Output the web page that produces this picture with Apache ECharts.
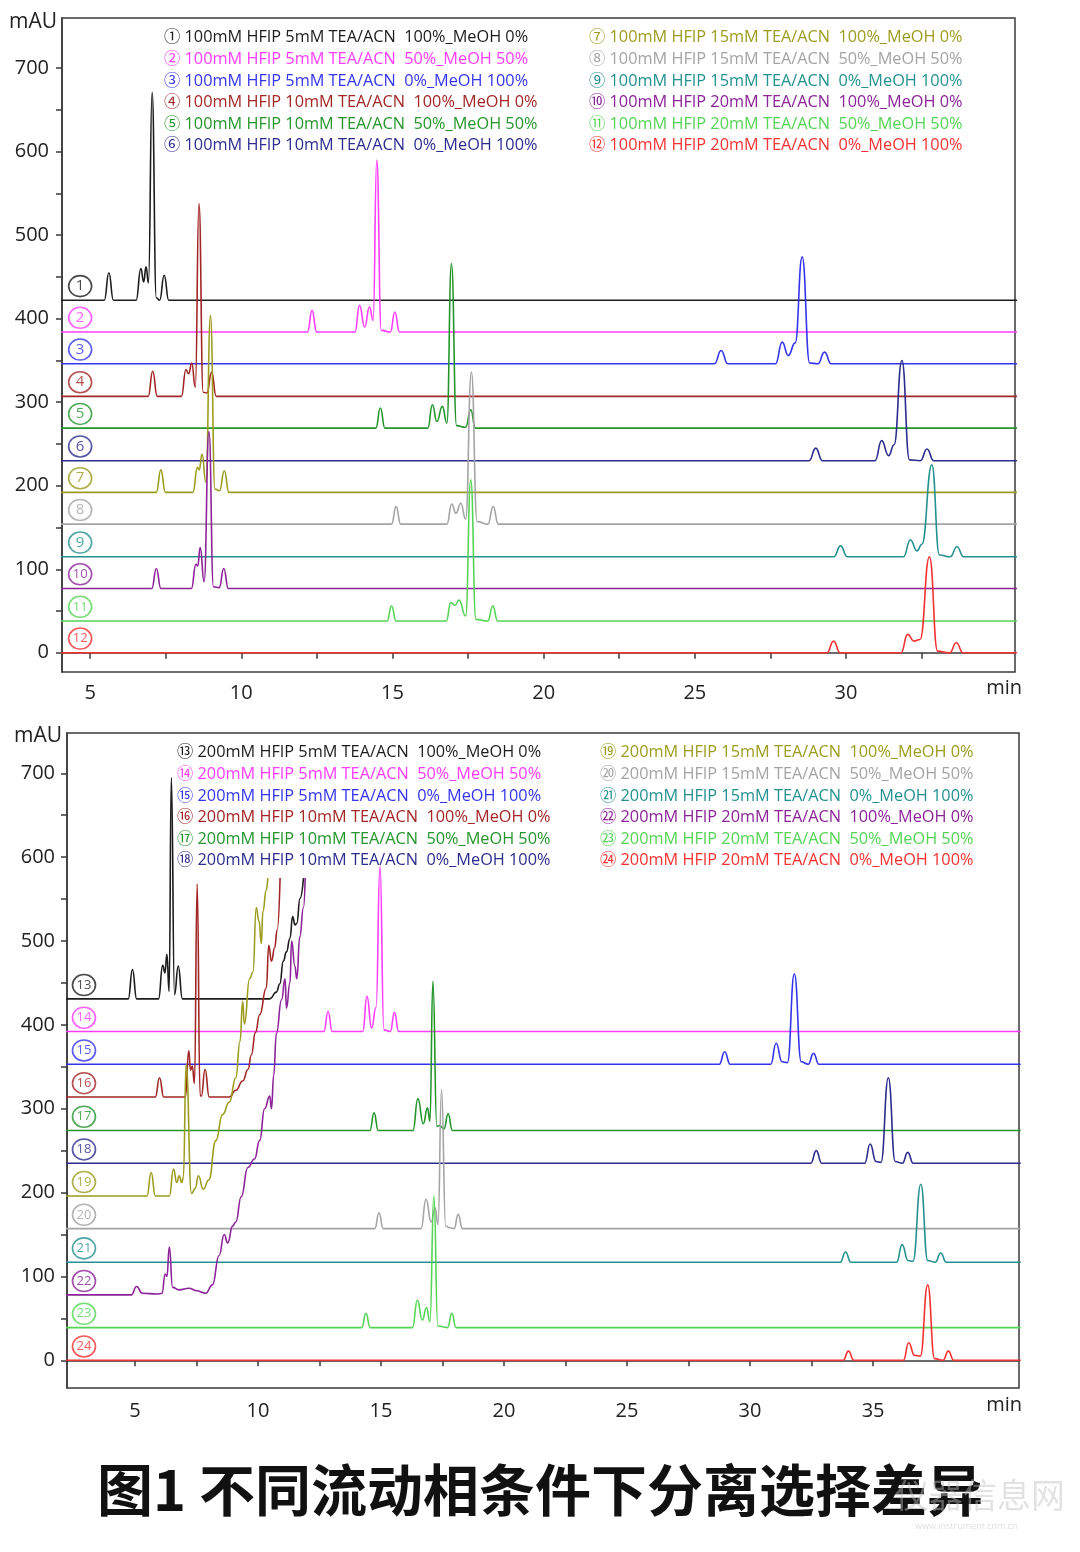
<!DOCTYPE html>
<html><head><meta charset="utf-8">
<script src="https://cdn.jsdelivr.net/npm/echarts@6/dist/echarts.min.js"></script>
<style>html,body{margin:0;padding:0;background:#fff}#c{width:1080px;height:1552px}</style>
</head><body><div id="c"></div>
<script>
// ---------- tick labels ----------
const xLabelsTop = [5, 10, 15, 20, 25, 30];
const xTicksTop = [5, 7.5, 10, 12.5, 15, 17.5, 20, 22.5, 25, 27.5, 30, 32.5];
const xLabelsBottom = [5, 10, 15, 20, 25, 30, 35];
const xTicksBottom = [5, 7.5, 10, 12.5, 15, 17.5, 20, 22.5, 25, 27.5, 30, 32.5, 35];
const yLabels = [0, 100, 200, 300, 400, 500, 600, 700];
const yTicks = [0, 50, 100, 150, 200, 250, 300, 350, 400, 450, 500, 550, 600, 650, 700];

// ---------- categories (legend names) ----------
const namesTop = [
  '① 100mM HFIP 5mM TEA/ACN  100%_MeOH 0%',
  '② 100mM HFIP 5mM TEA/ACN  50%_MeOH 50%',
  '③ 100mM HFIP 5mM TEA/ACN  0%_MeOH 100%',
  '④ 100mM HFIP 10mM TEA/ACN  100%_MeOH 0%',
  '⑤ 100mM HFIP 10mM TEA/ACN  50%_MeOH 50%',
  '⑥ 100mM HFIP 10mM TEA/ACN  0%_MeOH 100%',
  '⑦ 100mM HFIP 15mM TEA/ACN  100%_MeOH 0%',
  '⑧ 100mM HFIP 15mM TEA/ACN  50%_MeOH 50%',
  '⑨ 100mM HFIP 15mM TEA/ACN  0%_MeOH 100%',
  '⑩ 100mM HFIP 20mM TEA/ACN  100%_MeOH 0%',
  '⑪ 100mM HFIP 20mM TEA/ACN  50%_MeOH 50%',
  '⑫ 100mM HFIP 20mM TEA/ACN  0%_MeOH 100%'
];
const namesBottom = [
  '⑬ 200mM HFIP 5mM TEA/ACN  100%_MeOH 0%',
  '⑭ 200mM HFIP 5mM TEA/ACN  50%_MeOH 50%',
  '⑮ 200mM HFIP 5mM TEA/ACN  0%_MeOH 100%',
  '⑯ 200mM HFIP 10mM TEA/ACN  100%_MeOH 0%',
  '⑰ 200mM HFIP 10mM TEA/ACN  50%_MeOH 50%',
  '⑱ 200mM HFIP 10mM TEA/ACN  0%_MeOH 100%',
  '⑲ 200mM HFIP 15mM TEA/ACN  100%_MeOH 0%',
  '⑳ 200mM HFIP 15mM TEA/ACN  50%_MeOH 50%',
  '㉑ 200mM HFIP 15mM TEA/ACN  0%_MeOH 100%',
  '㉒ 200mM HFIP 20mM TEA/ACN  100%_MeOH 0%',
  '㉓ 200mM HFIP 20mM TEA/ACN  50%_MeOH 50%',
  '㉔ 200mM HFIP 20mM TEA/ACN  0%_MeOH 100%'
];
// baseline offsets (mAU) of each trace, used for the circled tags
const baseTop = [422, 384, 346, 307, 269, 230, 192, 154, 115, 77, 38, 0];
const baseBottom = [431, 392, 353, 314, 274, 235, 196, 157, 117, 78, 39, 0];

// ---------- series values: [min, mAU] ----------
const t01 = [[4,422],[5.47,422],[5.62,455],[5.77,422],[6.52,422],[6.68,460],[6.77,444],[6.85,462],[6.93,443],[7.05,671],[7.19,425],[7.3,422],[7.45,452],[7.6,422],[36,422]];
const t02 = [[4,384],[12.19,384],[12.34,410],[12.49,384],[13.76,384],[13.91,416],[14.08,390],[14.24,414],[14.36,398],[14.48,590],[14.63,386],[14.93,384],[15.08,408],[15.23,384],[36,384]];
const t03 = [[4,346],[25.65,346],[25.87,362],[26.09,346],[27.67,346],[27.89,372],[28.09,356],[28.32,371],[28.55,474],[28.8,347],[29.07,346],[29.29,360],[29.51,346],[36,346]];
const t04 = [[4,307],[6.92,307],[7.07,337],[7.22,307],[8.02,307],[8.17,339],[8.26,334],[8.36,347],[8.48,318],[8.6,538],[8.74,312],[8.86,311],[9.02,336],[9.17,307],[36,307]];
const t05 = [[4,269],[14.45,269],[14.6,293],[14.75,269],[16.17,269],[16.32,297],[16.47,277],[16.65,295],[16.8,275],[16.95,466],[17.12,272],[17.42,270],[17.59,291],[17.74,269],[36,269]];
const t06 = [[4,230],[28.78,230],[29.0,245],[29.22,230],[30.96,230],[31.18,254],[31.41,236],[31.59,249],[31.85,350],[32.1,231],[32.46,230],[32.68,244],[32.9,230],[36,230]];
const t07 = [[4,192],[7.19,192],[7.34,219],[7.49,192],[8.4,192],[8.55,222],[8.61,219],[8.7,238],[8.83,204],[8.98,404],[9.13,196],[9.28,194],[9.44,218],[9.59,192],[36,192]];
const t08 = [[4,154],[14.97,154],[15.12,175],[15.27,154],[16.8,154],[16.96,178],[17.1,167],[17.26,179],[17.42,160],[17.61,336],[17.8,157],[18.16,154],[18.33,175],[18.5,154],[36,154]];
const t09 = [[4,115],[29.6,115],[29.82,128],[30.04,115],[31.9,115],[32.13,135],[32.35,122],[32.51,130],[32.84,225],[33.09,117],[33.45,115],[33.67,127],[33.89,115],[36,115]];
const t10 = [[4,77],[7.04,77],[7.19,101],[7.34,77],[8.35,77],[8.5,106],[8.56,104],[8.64,126],[8.77,85],[8.93,265],[9.08,79],[9.27,78],[9.42,101],[9.57,77],[36,77]];
const t11 = [[4,38],[14.82,38],[14.97,56],[15.12,38],[16.78,38],[16.93,60],[17.07,57],[17.2,63],[17.42,44],[17.59,207],[17.76,40],[18.15,38],[18.32,56],[18.48,38],[36,38]];
const t12 = [[4,0],[29.37,0],[29.59,14],[29.81,0],[31.82,0],[32.04,22],[32.25,14],[32.45,16],[32.76,115],[33.03,2],[33.43,0],[33.65,12],[33.87,0],[36,0]];

const t13 = [[2,431],[4.73,431],[4.9,466],[5.07,431],[5.96,431],[6.13,471],[6.22,462],[6.3,484],[6.39,440],[6.48,695],[6.61,436],[6.76,470],[6.93,431],[10.48,431],[10.75,439],[10.89,449],[11.03,476],[11.16,487],[11.3,503],[11.41,529],[11.51,519],[11.58,521],[11.71,551],[11.85,575]];
const t14 = [[2,392],[12.68,392],[12.85,416],[13.02,392],[14.26,392],[14.43,434],[14.62,396],[14.8,421],[14.96,589],[15.12,394],[15.38,392],[15.55,415],[15.72,392],[41,392]];
const t15 = [[2,353],[28.75,353],[28.97,368],[29.19,353],[30.84,353],[31.06,378],[31.3,356],[31.52,355],[31.8,461],[32.08,356],[32.36,353],[32.58,366],[32.8,353],[41,353]];
const t16 = [[2,314],[5.83,314],[6.0,337],[6.17,314],[7.05,314],[7.19,369],[7.26,346],[7.33,351],[7.42,330],[7.53,568],[7.65,316],[7.7,315],[7.85,347],[8.02,314],[8.84,314],[9.1,322],[9.38,333],[9.6,347],[9.73,364],[9.9,391],[10.07,412],[10.34,444],[10.44,495],[10.55,476],[10.68,492],[10.78,513],[10.9,575]];
const t17 = [[2,274],[14.55,274],[14.72,295],[14.89,274],[16.3,274],[16.5,312],[16.72,282],[16.89,301],[16.99,285],[17.11,452],[17.27,279],[17.38,280],[17.56,276],[17.73,294],[17.9,274],[41,274]];
const t18 = [[2,235],[32.47,235],[32.69,250],[32.91,235],[34.66,235],[34.88,258],[35.12,237],[35.32,236],[35.62,337],[35.9,237],[36.19,235],[36.41,248],[36.63,235],[41,235]];
const t19 = [[2,196],[5.49,196],[5.66,224],[5.83,196],[6.4,196],[6.57,228],[6.7,212],[6.8,220],[6.9,212],[6.97,218],[7.08,353],[7.3,199],[7.45,205],[7.58,220],[7.78,204],[8.0,215],[8.29,262],[8.56,293],[8.84,308],[9.1,337],[9.27,380],[9.38,428],[9.45,401],[9.66,455],[9.8,463],[9.93,540],[10.04,524],[10.14,497],[10.2,535],[10.34,561],[10.4,575]];
const t20 = [[2,157],[14.75,157],[14.92,176],[15.09,157],[16.63,157],[16.83,192],[17.04,165],[17.2,182],[17.32,162],[17.46,323],[17.63,160],[17.8,158],[17.97,157],[18.14,174],[18.31,157],[41,157]];
const t21 = [[2,117],[33.66,117],[33.88,129],[34.1,117],[35.96,117],[36.18,138],[36.42,119],[36.62,118],[36.94,210],[37.22,119],[37.53,117],[37.75,128],[37.97,117],[41,117]];
const t22 = [[2,78],[4.85,78],[5.07,88],[5.3,80],[5.9,79],[6.1,80],[6.23,103],[6.3,100],[6.4,135],[6.53,87],[6.8,84],[7.2,86],[7.5,83],[7.88,80],[8.15,90],[8.42,125],[8.63,150],[8.77,140],[8.97,160],[9.1,165],[9.32,195],[9.59,230],[9.86,240],[10.07,262],[10.27,300],[10.48,315],[10.55,300],[10.64,340],[10.75,390],[10.96,430],[11.1,455],[11.16,420],[11.3,450],[11.37,500],[11.5,470],[11.58,455],[11.7,505],[11.85,540],[11.92,575]];
const t23 = [[2,39],[14.22,39],[14.39,56],[14.56,39],[16.28,39],[16.48,72],[16.68,48],[16.85,63],[16.99,46],[17.15,196],[17.31,41],[17.5,40],[17.71,39],[17.88,56],[18.05,39],[41,39]];
const t24 = [[2,0],[33.78,0],[34.0,11],[34.22,0],[36.23,0],[36.45,21],[36.68,6],[36.92,5],[37.22,90],[37.5,2],[37.84,0],[38.06,11],[38.28,0],[41,0]];

const tracesTop = [t01,t02,t03,t04,t05,t06,t07,t08,t09,t10,t11,t12];
const tracesBottom = [t13,t14,t15,t16,t17,t18,t19,t20,t21,t22,t23,t24];

// ---------- styles ----------
const colors = ['#1c1c1c','#ff3cff','#3434ee','#a32626','#24962c','#2c2c8e','#9c9c1e','#a4a4a4','#23918f','#8c2399','#55d455','#f43232'];
const FONT = "'Open Sans','Noto Sans CJK SC',sans-serif";
const AX = '#3a3a3a';

const chart = echarts.init(document.getElementById('c'), null, {renderer: 'canvas'});

function lines(traces, names, gi) {
  return traces.map((d, i) => ({
    type: 'line', name: names[i], data: d, xAxisIndex: gi, yAxisIndex: gi,
    symbol: 'none', showSymbol: false, smooth: 0.5, smoothMonotone: 'x',
    lineStyle: {color: colors[i], width: 1.6}, itemStyle: {color: colors[i]},
    silent: true, animation: false, clip: true, z: 2
  }));
}
function tags(bases, tX, dy, gi, first) {
  return {
    type: 'scatter', xAxisIndex: gi, yAxisIndex: gi, symbol: 'circle', symbolSize: [23, 21],
    silent: true, animation: false, z: 5,
    data: bases.map((b, i) => ({
      value: [tX, b + dy],
      itemStyle: {color: '#fff', borderColor: colors[i], borderWidth: 1.6},
      label: {show: true, position: 'inside', formatter: String(first + i), color: colors[i],
              fontSize: (first + i) >= 10 ? 13 : 15, fontFamily: FONT}
    }))
  };
}
function legend(names, from, left, top) {
  return {
    data: names.slice(from, from + 6).map((n, k) => ({name: n, textStyle: {color: colors[from + k]}})),
    left: left, top: top, orient: 'vertical', itemWidth: 0, itemHeight: 0, itemGap: 0,
    selectedMode: false, itemStyle: {opacity: 0}, lineStyle: {opacity: 0},
    textStyle: {fontSize: 16.3, lineHeight: 21.6, fontFamily: FONT}
  };
}
function xAxis(gi, min, max, labels, ticks, labelMargin) {
  return {
    type: 'value', gridIndex: gi, min: min, max: max,
    axisLine: {show: true, lineStyle: {color: AX, width: 1.5}},
    axisTick: {show: true, length: 6, customValues: ticks, lineStyle: {color: AX, width: 1.5}},
    axisLabel: {show: true, customValues: labels, margin: labelMargin, fontSize: 20, color: '#222', fontFamily: FONT},
    splitLine: {show: false}
  };
}
function yAxis(gi, min, max, nameGap, labelMargin) {
  return {
    type: 'value', gridIndex: gi, min: min, max: max,
    name: 'mAU', nameLocation: 'end', nameGap: nameGap,
    nameTextStyle: {fontSize: 21, color: '#222', fontFamily: FONT, align: 'right', verticalAlign: 'middle', padding: [0, 5, 0, 0]},
    axisLine: {show: true, lineStyle: {color: AX, width: 1.5}},
    axisTick: {show: true, length: 6, customValues: yTicks, lineStyle: {color: AX, width: 1.5}},
    axisLabel: {show: true, customValues: yLabels, margin: labelMargin, fontSize: 20, color: '#222', fontFamily: FONT},
    splitLine: {show: false}
  };
}

const option = {
  backgroundColor: '#fff',
  animation: false,
  title: {
    text: '图1 不同流动相条件下分离选择差异', left: 'center', top: 1452,
    textStyle: {fontSize: 56, fontWeight: 'bold', color: '#111', fontFamily: "'Noto Sans CJK SC',sans-serif", lineHeight: 66}
  },
  grid: [
    {left: 62, top: 18, width: 953, height: 654, show: true, borderColor: AX, borderWidth: 1.5, backgroundColor: 'transparent'},
    {left: 67, top: 733, width: 952, height: 655, show: true, borderColor: AX, borderWidth: 1.5, backgroundColor: 'transparent'}
  ],
  xAxis: [
    xAxis(0, 4.07, 35.59, xLabelsTop, xTicksTop, 11),
    xAxis(1, 2.24, 40.93, xLabelsBottom, xTicksBottom, 13)
  ],
  yAxis: [
    yAxis(0, -23, 760, -4, 13),
    yAxis(1, -33, 748, -3, 12)
  ],
  legend: [
    legend(namesTop, 0, 153, 22),
    legend(namesTop, 6, 578, 22),
    legend(namesBottom, 0, 166, 737),
    legend(namesBottom, 6, 589, 737)
  ],
  graphic: [
    {type: 'text', right: 58, top: 678, silent: true, z: 10,
     style: {text: 'min', fontSize: 20, fontFamily: FONT, fill: '#222'}},
    {type: 'text', right: 58, top: 1395, silent: true, z: 10,
     style: {text: 'min', fontSize: 20, fontFamily: FONT, fill: '#222'}},
    {type: 'text', left: 895, top: 1478, silent: true, z: 10,
     style: {text: '仪器信息网', fontSize: 34, fontFamily: "'Noto Sans CJK SC',sans-serif", fill: 'rgba(190,190,190,0.45)'}},
    {type: 'text', left: 915, top: 1522, silent: true, z: 10,
     style: {text: 'www.instrument.com.cn', fontSize: 9, fontFamily: FONT, fill: 'rgba(190,190,190,0.5)'}}
  ],
  series: [].concat(
    lines(tracesTop, namesTop, 0),
    lines(tracesBottom, namesBottom, 1),
    [tags(baseTop, 4.67, 17, 0, 1), tags(baseBottom, 2.93, 16.5, 1, 13)]
  )
};
chart.setOption(option);
</script>
</body></html>
